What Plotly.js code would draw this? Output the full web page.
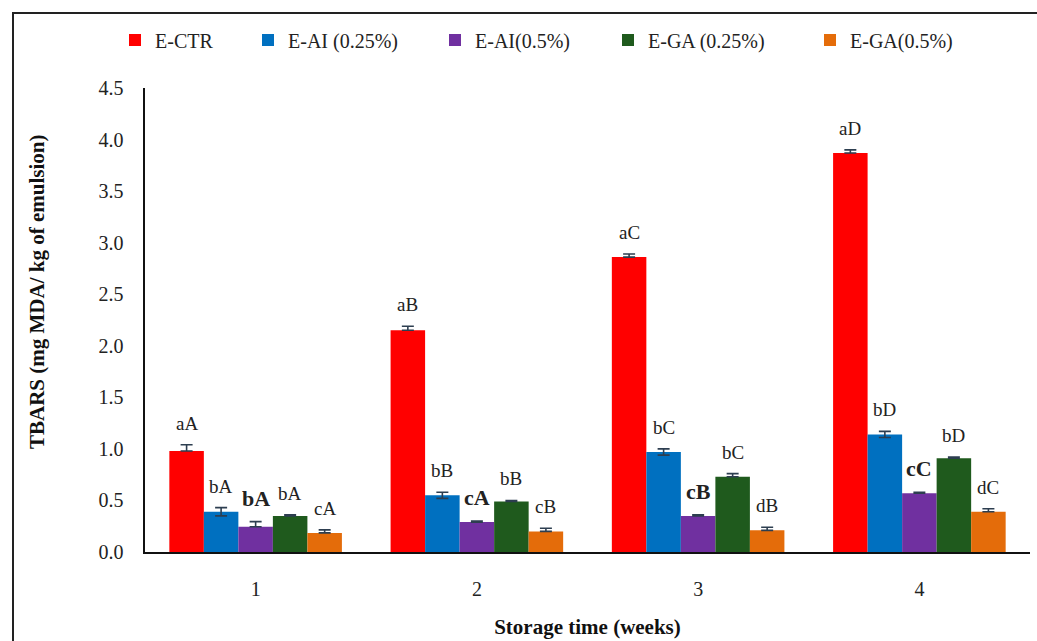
<!DOCTYPE html>
<html>
<head>
<meta charset="utf-8">
<script src="https://cdn.plot.ly/plotly-3.0.1.min.js"></script>
<style>
  html, body { margin: 0; padding: 0; background: #fff; }
  #wrap { position: relative; width: 1037px; height: 641px; overflow: hidden; }
  #chart { position: absolute; left: 0; top: 0; width: 1037px; height: 641px; }
  #frame { position: absolute; left: 12px; top: 12px; width: 1100px; height: 700px;
           border-left: 2px solid #222; border-top: 2px solid #222; pointer-events: none; }
</style>
</head>
<body>
<div id="wrap"><div id="chart"></div><div id="frame"></div></div>
<script>
// ---- data ----
const weeks = ['1', '2', '3', '4'];
const seriesNames = ['E-CTR', 'E-AI (0.25%)', 'E-AI(0.5%)', 'E-GA (0.25%)', 'E-GA(0.5%)'];
const ctr      = [0.98, 2.15, 2.86, 3.87];
const ctrErr   = [0.06, 0.04, 0.03, 0.03];
const ai025    = [0.39, 0.55, 0.97, 1.14];
const ai025Err = [0.04, 0.03, 0.03, 0.03];
const ai05     = [0.245, 0.29, 0.35, 0.57];
const ai05Err  = [0.05, 0.01, 0.01, 0.01];
const ga025    = [0.35, 0.49, 0.73, 0.91];
const ga025Err = [0.01, 0.01, 0.03, 0.01];
const ga05     = [0.185, 0.20, 0.21, 0.39];
const ga05Err  = [0.03, 0.03, 0.03, 0.03];
const ctrLetters   = ['aA', 'aB', 'aC', 'aD'];
const ai025Letters = ['bA', 'bB', 'bC', 'bD'];
const ai05Letters  = ['bA', 'cA', 'cB', 'cC'];
const ga025Letters = ['bA', 'bB', 'bC', 'bD'];
const ga05Letters  = ['cA', 'cB', 'dB', 'dC'];
const yTicks = [0, 0.5, 1, 1.5, 2, 2.5, 3, 3.5, 4, 4.5];
const yTitle = 'TBARS (mg MDA/ kg of emulsion)';
const xTitle = 'Storage time (weeks)';

// ---- styling ----
const FONT = "'Liberation Serif', 'Times New Roman', Times, serif";
const colors = ['#ff0000', '#0070c0', '#7030a0', '#1f5a1d', '#e46c0a'];
const values = [ctr, ai025, ai05, ga025, ga05];
const errs = [ctrErr, ai025Err, ai05Err, ga025Err, ga05Err];
const letters = [ctrLetters, ai025Letters, ai05Letters, ga025Letters, ga05Letters];
const symmetricErr = [false, true, false, false, false];
const boldLetters = [false, false, true, false, false];
const legendPx = [115, 248, 435, 608, 810];

const W = 1037, H = 641;
const margin = {l: 145, r: 7, t: 88, b: 89};
const plotW = W - margin.l - margin.r;
const plotH = H - margin.t - margin.b;
const bargap = 0.22;
const nS = values.length;

const traces = values.map((v, i) => ({
  type: 'bar',
  name: seriesNames[i],
  x: weeks,
  y: v,
  marker: {color: colors[i]},
  legend: i === 0 ? 'legend' : 'legend' + (i + 1),
  error_y: symmetricErr[i]
    ? {type: 'data', array: errs[i], visible: true, color: '#2d3e50', thickness: 1.6, width: 6}
    : {type: 'data', symmetric: false, array: errs[i], arrayminus: errs[i].map(() => 0),
       visible: true, color: '#2d3e50', thickness: 1.6, width: 6},
  hoverinfo: 'y+name'
}));

const annotations = [];
const groupW = 1 - bargap;
const barW = groupW / nS;
values.forEach((v, i) => {
  v.forEach((val, j) => {
    const txt = boldLetters[i] ? '<b>' + letters[i][j] + '</b>' : letters[i][j];
    annotations.push({
      xref: 'x', yref: 'y',
      x: j - groupW / 2 + (i + 0.5) * barW,
      y: val + errs[i][j],
      text: txt, showarrow: false,
      yanchor: 'bottom', xanchor: 'center', yshift: 9,
      font: {family: FONT, size: boldLetters[i] ? 22 : 19, color: '#222'}
    });
  });
});
// y-axis title (placed like the reference, slightly above the plot centre)
annotations.push({
  xref: 'paper', yref: 'paper', x: (37 - margin.l) / plotW, y: (H - margin.b - 292) / plotH,
  xanchor: 'center', yanchor: 'middle', textangle: -90, showarrow: false,
  text: '<b>' + yTitle + '</b>', font: {family: FONT, size: 21, color: '#111'}
});

const layout = {
  width: W, height: H,
  margin: margin,
  paper_bgcolor: '#fff', plot_bgcolor: '#fff',
  barmode: 'group', bargap: bargap, bargroupgap: 0,
  font: {family: FONT, size: 20, color: '#222'},
  showlegend: true,
  xaxis: {
    type: 'category',
    showline: true, linecolor: '#111', linewidth: 1.6,
    ticks: '', showgrid: false, zeroline: false,
    tickfont: {family: FONT, size: 20, color: '#222'},
    ticklabelstandoff: 18,
    title: {text: '<b>' + xTitle + '</b>', font: {family: FONT, size: 21, color: '#111'}, standoff: 21}
  },
  yaxis: {
    range: [0, 4.5], tickvals: yTicks, tickformat: '.1f',
    showline: true, linecolor: '#111', linewidth: 1.6,
    ticks: '', showgrid: false, zeroline: false,
    tickfont: {family: FONT, size: 20, color: '#222'},
    ticklabelstandoff: 16
  },
  annotations: annotations
};
legendPx.forEach((p, i) => {
  const key = i === 0 ? 'legend' : 'legend' + (i + 1);
  layout[key] = {
    orientation: 'h', x: (p - margin.l) / plotW, xanchor: 'left',
    y: 1 + (margin.t - 40) / plotH, yanchor: 'middle',
    bgcolor: 'rgba(0,0,0,0)', borderwidth: 0,
    font: {family: FONT, size: 20, color: '#222'}
  };
});

Plotly.newPlot('chart', traces, layout, {displayModeBar: false, staticPlot: true});
</script>
</body>
</html>
